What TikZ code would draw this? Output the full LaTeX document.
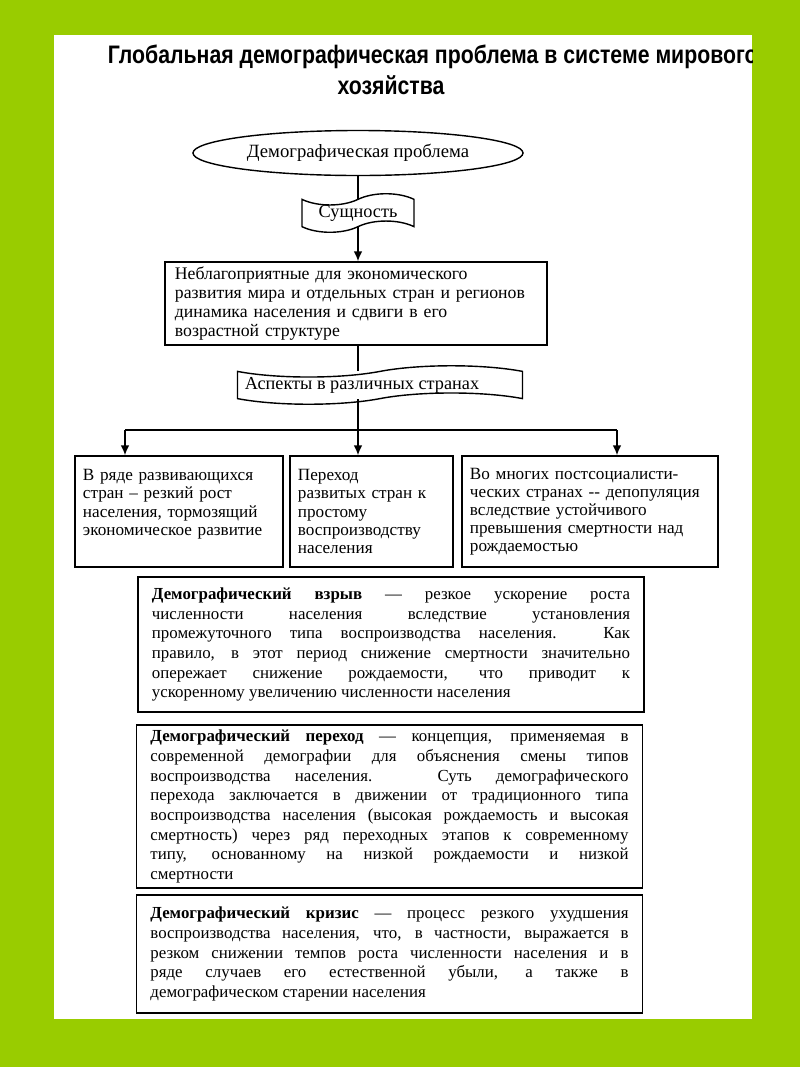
\documentclass[tikz,border=0pt]{standalone}
\usepackage{fontspec}
\setmainfont{Liberation Serif}
\newfontfamily\titlefont[FakeStretch=0.84]{Liberation Sans}
\usetikzlibrary{shapes.geometric,shapes.symbols,positioning,arrows.meta}
\definecolor{pagegreen}{HTML}{99CC00}
\begin{document}
\begin{tikzpicture}[x=0.025cm, y=-0.025cm,
        box/.style={draw, rectangle, line width=1pt, inner xsep=0.2cm, inner ysep=0pt, align=left, font=\fontsize{12.2}{12.9}\selectfont},
        banner/.style={draw, tape, line width=1pt, tape bend height=8pt, inner sep=0pt, font=\fontsize{13}{14}\selectfont},
        defbox/.style={draw, rectangle, line width=1pt, minimum width=12.65cm, text width=11.95cm, inner xsep=0.35cm, inner ysep=0pt, align=justify, font=\fontsize{12}{14}\selectfont},
        link/.style={line width=1pt},
        arrow/.style={link, -{Latex[length=7pt, width=6pt]}}]
    % page
    \fill[pagegreen] (0,0) rectangle (800,1067);
    \fill[white] (54,35) rectangle (752,1019);
    \begin{scope}
        \clip (54,35) rectangle (752,1019);
        \node[anchor=west, font=\titlefont\bfseries\fontsize{18}{20}\selectfont] (title1) at (103,57) {Глобальная демографическая проблема в системе мирового};
        \node[font=\titlefont\bfseries\fontsize{18}{20}\selectfont] (title2) at (391,85) {хозяйства};
    \end{scope}
    % top chain
    \node[draw, ellipse, line width=1pt, minimum width=8.25cm, minimum height=1.125cm, inner sep=0pt, font=\fontsize{13.3}{14}\selectfont] (problem) at (358,153) {Демографическая проблема};
    \node[banner, minimum width=2.8cm, minimum height=0.95cm] (essence) at (358,213) {Сущность};
    \node[box, minimum width=9.55cm, minimum height=2.075cm, text width=9.05cm, inner xsep=0.25cm, font=\fontsize{12.6}{13.7}\selectfont] (factors) at (356,303.5) {Неблагоприятные для экономического\\ развития мира и отдельных стран и регионов\\ динамика населения и сдвиги в его\\ возрастной структуре};
    \node[banner, minimum width=7.125cm, minimum height=0.95cm] (aspects) at (380,385) {Аспекты в различных странах\hspace*{0.9cm}};
    \draw[link] (problem.south) -- (problem.south |- essence.north);
    \draw[arrow] (essence.south) -- (essence.south |- factors.north);
    \draw[link] (essence.south |- factors.south) -- (essence.south |- aspects.north);
    % three aspects
    \node[box, minimum width=5.2cm, minimum height=2.775cm, text width=4.8cm] (box1) at (179,511.5) {В ряде развивающихся\\ стран – резкий рост\\ населения, тормозящий\\ экономическое развитие\\ ~};
    \node[box, minimum width=4.075cm, minimum height=2.775cm, text width=3.675cm] (box2) at (371.5,511.5) {Переход\\ развитых стран к\\ простому\\ воспроизводству\\ населения};
    \node[box, minimum width=6.4cm, minimum height=2.775cm, text width=6cm] (box3) at (590,511.5) {Во многих постсоциалисти-\\ческих странах -{}- депопуляция\\ вследствие устойчивого\\ превышения смертности над\\ рождаемостью};
    \foreach \i/\ax in {1/125, 2/358, 3/617}
        {
            \coordinate (split\i) at (\ax,430);
        }
    \draw[link] (essence.south |- aspects.south) -- (split2);
    \draw[link] (split1) -- (split3);
    \foreach \i in {1, 2, 3}
        {
            \draw[arrow] (split\i) -- (split\i |- box\i.north);
        }
    % definitions
    \node[defbox, minimum height=3.375cm] (def1) at (391,644.5) {\textbf{Демографический взрыв} — резкое ускорение роста\linebreak численности населения вследствие установления\linebreak промежуточного типа воспроизводства населения. Как\linebreak правило, в этот период снижение смертности значительно\linebreak опережает снижение рождаемости, что приводит к\linebreak ускоренному увеличению численности населения};
    \node[defbox, minimum height=4.075cm] (def2) at (389.5,806.5) {\textbf{Демографический переход} — концепция, применяемая в\linebreak современной демографии для объяснения смены типов\linebreak воспроизводства населения. Суть демографического\linebreak перехода заключается в движении от традиционного типа\linebreak воспроизводства населения (высокая рождаемость и высокая\linebreak смертность) через ряд переходных этапов к современному\linebreak типу, основанному на низкой рождаемости и низкой\linebreak смертности};
    \node[defbox, minimum height=2.95cm] (def3) at (389.5,954) {\textbf{Демографический кризис} — процесс резкого ухудшения\linebreak воспроизводства населения, что, в частности, выражается в\linebreak резком снижении темпов роста численности населения и в\linebreak ряде случаев его естественной убыли, а также в\linebreak демографическом старении населения};
\end{tikzpicture}
\end{document}
